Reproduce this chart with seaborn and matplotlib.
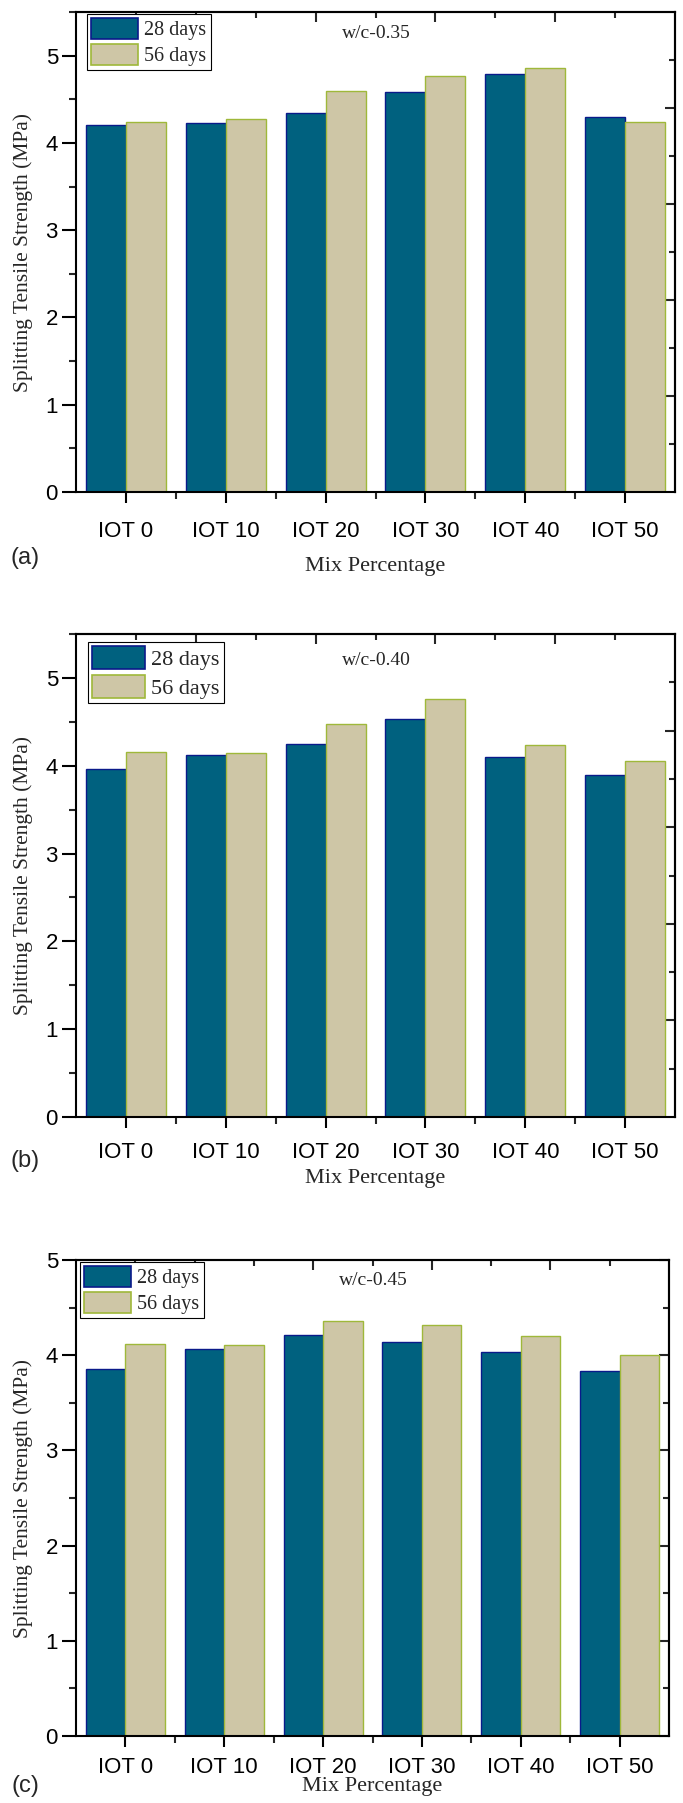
import matplotlib
matplotlib.use("Agg")
import matplotlib.pyplot as plt
import numpy as np
import pandas as pd
import seaborn as sns
from matplotlib.patches import Patch
from matplotlib.ticker import FixedLocator, MultipleLocator, NullFormatter

# ---- data -------------------------------------------------------------
mixes = ["IOT 0", "IOT 10", "IOT 20", "IOT 30", "IOT 40", "IOT 50"]
ages = ["28 days", "56 days"]

wc035_28d = [4.21, 4.23, 4.34, 4.58, 4.79, 4.30]
wc035_56d = [4.245, 4.27, 4.59, 4.77, 4.86, 4.24]

wc040_28d = [3.96, 4.12, 4.25, 4.53, 4.10, 3.89]
wc040_56d = [4.16, 4.15, 4.48, 4.76, 4.24, 4.05]

wc045_28d = [3.85, 4.07, 4.21, 4.14, 4.03, 3.83]
wc045_56d = [4.12, 4.11, 4.36, 4.32, 4.20, 4.00]

panel_titles = ["w/c-0.35", "w/c-0.40", "w/c-0.45"]
panel_letters = ["(a)", "(b)", "(c)"]

# ---- style ------------------------------------------------------------
sns.set_style("ticks")
plt.rcParams["font.family"] = ["Liberation Sans", "DejaVu Sans"]
SERIF = ["Liberation Serif", "DejaVu Serif"]
tick_size = 16

fill_colors = ["#00617f", "#cec6a6"]
edge_colors = ["#0a1a8a", "#9fb83a"]

W, H = 683, 1803
fig = plt.figure(figsize=(W / 100, H / 100), dpi=100)


def axes_px(left, top, right, bottom):
    return fig.add_axes([left / W, 1 - bottom / H, (right - left) / W, (bottom - top) / H])


# pixel boxes (left, top, right, bottom) and layout of each panel
boxes = [(76, 12, 675, 492), (76, 634, 675, 1117), (76, 1260, 669, 1736)]
ymaxes = [5.5, 5.5, 5.0]
legend_sizes = [14.5, 16, 14.5]
legend_offsets = [(11, 2), (12, 8), (4, 2)]
xtick_pads = [13, 10, 7]
title_y = [0.956, 0.946, 0.956]
letter_y = [558, 1161, 1786]
xlabel_y = [566, 1179, 1787]

series = [(wc035_28d, wc035_56d), (wc040_28d, wc040_56d), (wc045_28d, wc045_56d)]

for i, (s28, s56) in enumerate(series):
    left, top, right, bottom = boxes[i]
    ax = axes_px(left, top, right, bottom)
    df = pd.DataFrame({
        "Mix": mixes * 2,
        "Age": [ages[0]] * len(mixes) + [ages[1]] * len(mixes),
        "Strength": list(s28) + list(s56),
    })
    sns.barplot(data=df, x="Mix", y="Strength", hue="Age", order=mixes,
                hue_order=ages, palette=fill_colors, saturation=1, width=0.8,
                errorbar=None, legend=False, ax=ax)
    for cont, ec in zip(ax.containers, edge_colors):
        for bar in cont:
            bar.set_edgecolor(ec)
            bar.set_linewidth(1.0)

    ymax = ymaxes[i]
    n = len(mixes)
    ax.set_xlim(-0.5, n - 0.5)
    ax.set_ylim(0, ymax)
    ax.yaxis.set_major_locator(MultipleLocator(1))
    ax.yaxis.set_minor_locator(MultipleLocator(0.5))
    ax.xaxis.set_minor_locator(FixedLocator(np.arange(0.5, n - 0.5, 1.0)))

    for sp in ax.spines.values():
        sp.set_visible(True)
        sp.set_linewidth(1.5)
        sp.set_color("black")

    ax.tick_params(axis="x", which="major", direction="out", length=8, width=1.5,
                   labelsize=tick_size, pad=xtick_pads[i], colors="black")
    ax.tick_params(axis="x", which="minor", direction="out", length=5, width=1.5)
    ax.tick_params(axis="y", which="major", direction="out", length=10, width=1.5,
                   labelsize=tick_size, pad=3, colors="black")
    ax.tick_params(axis="y", which="minor", direction="out", length=5, width=1.5)
    ax.tick_params(top=False, right=False, which="both")

    # secondary scales on the top and right frame edges
    top_ax = ax.secondary_xaxis("top", functions=(lambda x, n=n: (x + 0.5) * 10 / n,
                                                  lambda v, n=n: v * n / 10 - 0.5))
    top_ax.xaxis.set_major_locator(FixedLocator([2, 4, 6, 8]))
    top_ax.xaxis.set_minor_locator(FixedLocator([1, 3, 5, 7, 9]))
    top_ax.xaxis.set_major_formatter(NullFormatter())
    top_ax.tick_params(which="major", direction="in", length=7, width=1.5)
    top_ax.tick_params(which="minor", direction="in", length=4, width=1.5)
    top_ax.spines["top"].set_linewidth(1.5)

    if i < 2:
        right_ax = ax.secondary_yaxis("right", functions=(lambda y, m=ymax: y * 10 / m,
                                                          lambda v, m=ymax: v * m / 10))
        right_ax.yaxis.set_major_locator(FixedLocator([2, 4, 6, 8]))
        right_ax.yaxis.set_minor_locator(FixedLocator([1, 3, 5, 7, 9]))
    else:
        right_ax = ax.secondary_yaxis("right")
        right_ax.yaxis.set_major_locator(MultipleLocator(1))
        right_ax.yaxis.set_minor_locator(MultipleLocator(0.5))
    right_ax.yaxis.set_major_formatter(NullFormatter())
    right_ax.tick_params(which="major", direction="in", length=7, width=1.5)
    right_ax.tick_params(which="minor", direction="in", length=4, width=1.5)
    right_ax.spines["right"].set_linewidth(1.5)

    ax.set_ylabel("Splitting Tensile Strength (MPa)", family=SERIF, fontsize=15.5)
    ax.yaxis.label.set_va("center")
    ax.yaxis.set_label_coords((23 - left) / (right - left), 0.5)
    ax.set_xlabel("")

    handles = [Patch(facecolor=fill_colors[k], edgecolor=edge_colors[k], linewidth=1.2)
               for k in range(2)]
    dx, dy = legend_offsets[i]
    leg = ax.legend(handles, ages, loc="upper left",
                    bbox_to_anchor=(dx / (right - left), 1 - dy / (bottom - top)),
                    borderaxespad=0, fancybox=False, framealpha=1, edgecolor="black",
                    prop={"family": SERIF, "size": legend_sizes[i]},
                    handlelength=2.35, handleheight=1.2, handletextpad=0.3,
                    labelspacing=0.2, borderpad=0.2)
    leg.get_frame().set_linewidth(0.8)

    ax.text(0.502, title_y[i], panel_titles[i], transform=ax.transAxes,
            ha="center", va="center", family=SERIF, fontsize=14)

    fig.text(25 / W, 1 - letter_y[i] / H, panel_letters[i], ha="center", va="center",
             fontsize=17)
    fig.text(((left + right) / 2) / W, 1 - xlabel_y[i] / H, "Mix Percentage",
             ha="center", va="center", family=SERIF, fontsize=16)

fig.savefig("out.png", dpi=100, facecolor="white")
